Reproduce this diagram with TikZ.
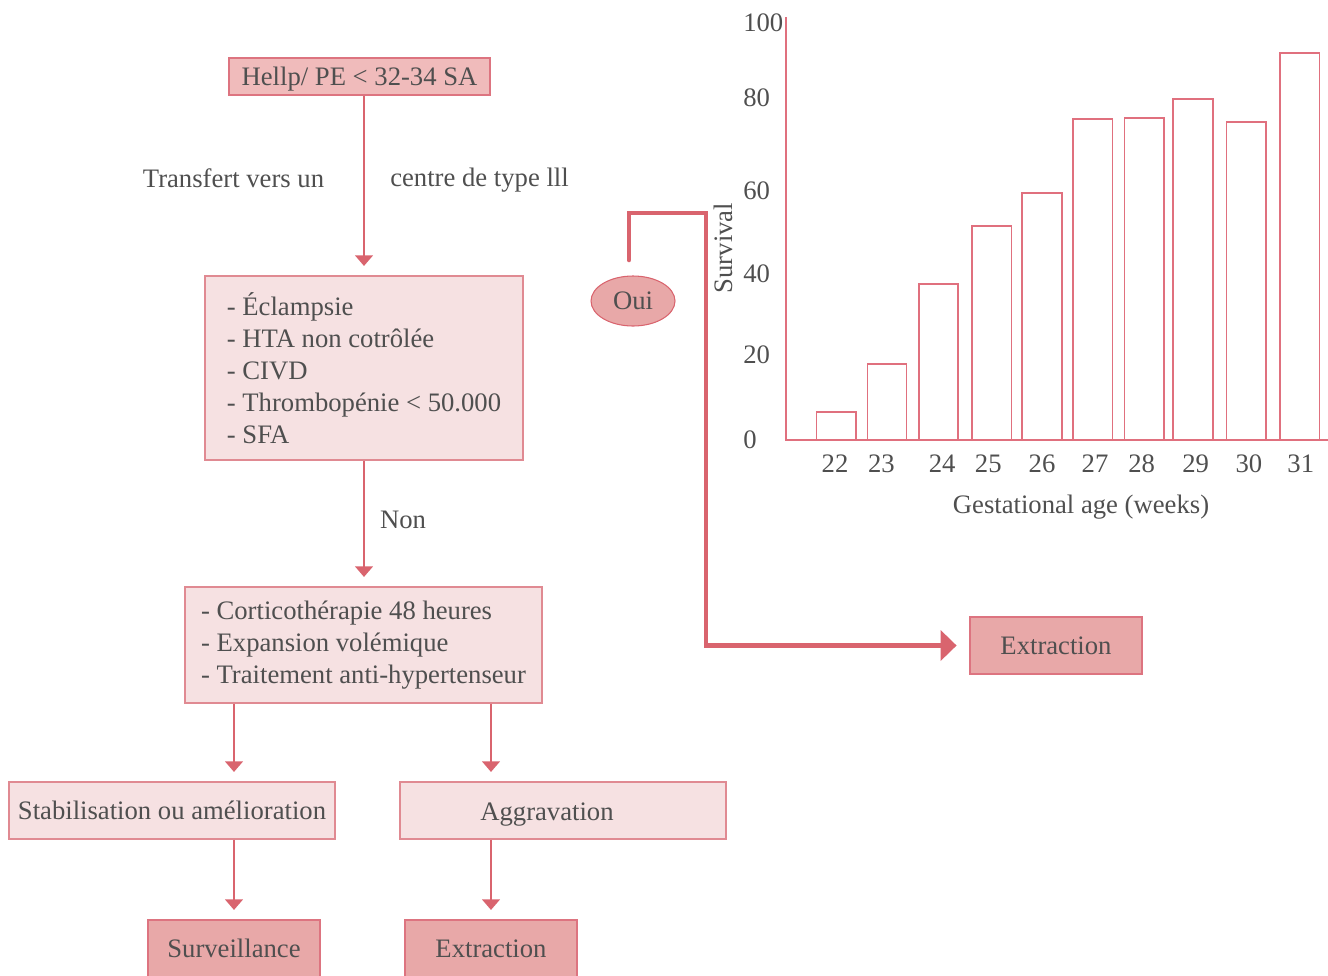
\documentclass[tikz,border=0pt]{standalone}
\usepackage{fontspec}
\setmainfont{Liberation Serif}
\usetikzlibrary{arrows.meta,calc,shapes.geometric}
\definecolor{txt}{HTML}{4F4F4F}
\definecolor{ln}{HTML}{D9646E}
\definecolor{lightfill}{HTML}{F6E1E2}
\definecolor{lightdraw}{HTML}{E08A92}
\definecolor{darkfill}{HTML}{E8A8A8}
\definecolor{darkdraw}{HTML}{DD7480}
\definecolor{topfill}{HTML}{F0BBBB}
\definecolor{barc}{HTML}{E0707E}
\begin{document}
\begin{tikzpicture}[x=0.75pt,y=-0.75pt, font=\fontsize{20}{24}\selectfont, text=txt,
 box/.style={draw=lightdraw, fill=lightfill, line width=1.1pt, inner sep=0pt, minimum height=42.75pt},
 dbox/.style={draw=darkdraw, fill=darkfill, line width=1.1pt, inner sep=0pt, minimum width=129pt, minimum height=42.75pt},
 arr/.style={draw=ln, line width=1.1pt, -{Triangle[width=13.5pt,length=8pt]}, shorten >=7pt},
 lbl/.style={inner sep=0pt},
 barbox/.style={draw=barc, line width=1.1pt}]
\useasboundingbox (0,0) rectangle (1328,975);

% flowchart nodes
\node[box, fill=topfill, draw=darkdraw, minimum width=195.75pt, minimum height=27.75pt, text depth=0pt] (top) at (359.5,76.5) {Hellp/ PE < 32-34 SA};
\node[box, minimum width=238.5pt, minimum height=138pt, align=left] (crit) at (364,368) {- Éclampsie\\- HTA non cotrôlée\\- CIVD\\- Thrombopénie < 50.000\\- SFA};
\node[box, minimum width=267.75pt, minimum height=87pt, align=left] (treat) at (363.5,645) {- Corticothérapie 48 heures\\- Expansion volémique\\- Traitement anti-hypertenseur};
\node[box, minimum width=244.5pt] (stab) at (172,810.5) {Stabilisation ou amélioration};
\node[box, minimum width=244.5pt, text height=15pt, text depth=0pt] (aggr) at (563,810.5) {Aggravation\hspace*{24pt}\mbox{}};
\node[dbox] (surv) at (234,948.5) {Surveillance};
\node[dbox] (ext1) at (491,948.5) {Extraction};
\node[dbox] (ext2) at (1056,645.5) {Extraction};
\node[ellipse, draw=ln, fill=darkfill, line width=0.8pt, inner sep=0pt, minimum width=63pt, minimum height=37.5pt] (oui) at (633,301) {Oui};

% labels
\node[lbl] (t1) at (233.5,178) {Transfert vers un};
\node[lbl] (t2) at (479.5,180.5) {centre de type lll};
\node[lbl] (non) at (403,520) {Non};

% arrows
\draw[arr] (top.south -| crit.north) -- (crit.north);
\draw[arr] (crit.south) -- (treat.north -| crit.south);
\draw[arr] (treat.south -| surv.north) -- (stab.north -| surv.north);
\draw[arr] (treat.south -| ext1.north) -- (aggr.north -| ext1.north);
\draw[arr] (stab.south -| surv.north) -- (surv.north);
\draw[arr] (aggr.south -| ext1.north) -- (ext1.north);

% thick connector from Oui to Extraction
\coordinate (s0) at (629,260);
\coordinate (s1) at (629,213);
\coordinate (s2) at (706,213);
\draw[draw=ln, line width=3.4pt, line cap=round, -{Triangle[width=22.5pt,length=12pt]}, shorten >=9.5pt] (s0) -- (s1) -- (s2) |- (ext2.west);

% chart axes
\coordinate (ytop) at (786,17);
\coordinate (orig) at (786,440);
\coordinate (xend) at (1328,440);
\draw[barbox] (ytop) -- (orig) -- (xend);

% bars
\foreach \a/\b/\t [count=\i] in {816.7/856.2/412, 867.4/906.5/364, 918.8/958.2/284, 971.9/1011.4/226, 1022.2/1062/193, 1072.9/1112.7/119, 1124.3/1164.1/118, 1173.2/1213/99, 1226.3/1266.2/122, 1279.8/1319.3/53}
  \draw[barbox] (\a,440) rectangle (\b,\t);

% y tick labels
\foreach \v/\y in {100/23, 80/98, 60/191, 40/274, 20/355, 0/440}
  \node[lbl, anchor=west] (yl\v) at (743,\y) {\v};

% x tick labels
\foreach \v/\x in {22/835, 23/881.4, 24/942.2, 25/988.3, 26/1042, 27/1095, 28/1141.7, 29/1195.6, 30/1248.9, 31/1300.8}
  \node[lbl] (xl\v) at (\x,464) {\v};

\node[lbl, rotate=90] (ylab) at (723,248) {Survival};
\node[lbl] (xlab) at (1081,507) {Gestational age (weeks)};
\end{tikzpicture}
\end{document}
